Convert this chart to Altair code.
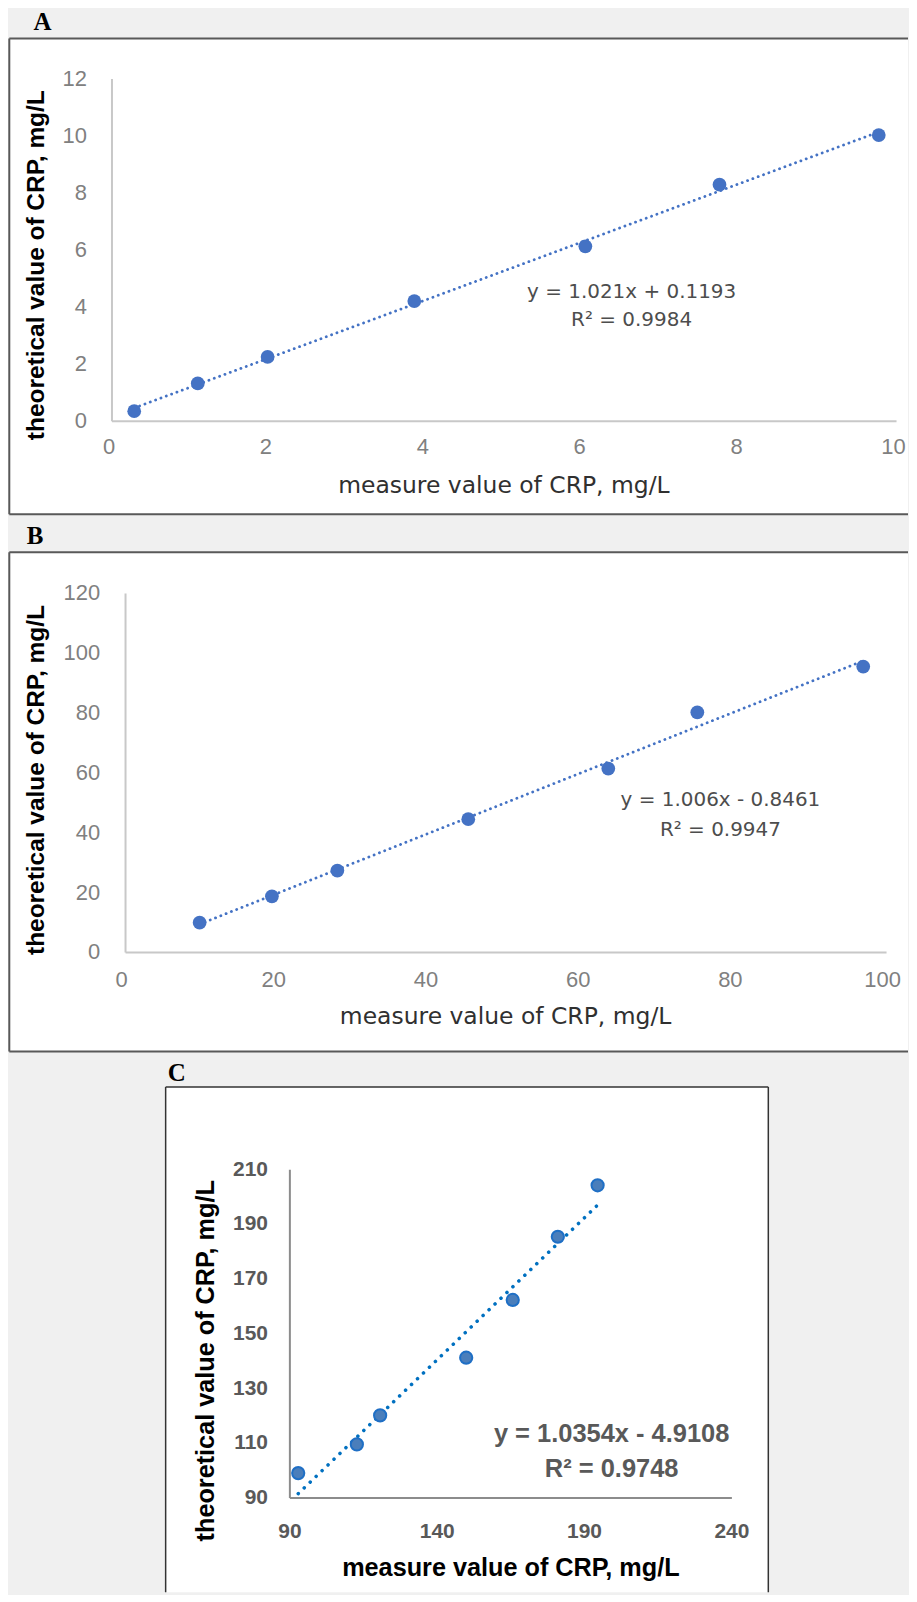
import altair as alt
import pandas as pd

BG = "#f0f0f0"

# ---------------- data ----------------
# Panel A
a_measure = [0.29, 1.10, 1.99, 3.86, 6.04, 7.75, 9.78]
a_theoretical = [0.34, 1.31, 2.24, 4.20, 6.12, 8.28, 10.02]
a_x_ticks = [0, 2, 4, 6, 8, 10]
a_y_ticks = [0, 2, 4, 6, 8, 10, 12]
a_eq = ["y = 1.021x + 0.1193", "R² = 0.9984"]

# Panel B
b_measure = [9.8, 19.3, 27.9, 45.1, 63.5, 75.2, 97.0]
b_theoretical = [9.8, 18.6, 27.2, 44.4, 61.3, 80.1, 95.4]
b_x_ticks = [0, 20, 40, 60, 80, 100]
b_y_ticks = [0, 20, 40, 60, 80, 100, 120]
b_eq = ["y = 1.006x - 0.8461", "R² = 0.9947"]

# Panel C
c_measure = [93.0, 112.9, 120.8, 150.0, 165.8, 181.1, 194.6]
c_theoretical = [98.9, 109.4, 120.0, 141.1, 162.2, 185.3, 204.1]
c_x_ticks = [90, 140, 190, 240]
c_y_ticks = [90, 110, 130, 150, 170, 190, 210]
c_eq = ["y = 1.0354x - 4.9108", "R² = 0.9748"]

x_title = "measure value of CRP, mg/L"
y_title = "theoretical value of CRP, mg/L"

# ---------------- layout (page pixel positions) ----------------
PAGE_X0, PAGE_X1 = 8, 909
GEO_A = dict(plot=(110.7, 77.0, 897.0, 420.0), slot=(8, 520),
             frame=(8.3, 36.7, 909, 513.5), sides=["left", "top", "bottom"],
             letter=(41.5, 28), xtitle=(504, 492), ytitle=(36, 264),
             eq=(632, 297, 325))
GEO_B = dict(plot=(124.3, 592.5, 887.0, 952.3), slot=(520, 1060),
             frame=(8.3, 551.7, 909, 1052), sides=["left", "top", "bottom"],
             letter=(34, 543), xtitle=(505.7, 1024), ytitle=(36, 780),
             eq=(721, 806.5, 836.5))
GEO_C = dict(plot=(289.0, 1170.0, 732.0, 1499.0), slot=(1060, 1594),
             frame=(165, 1087.7, 769, 1594), sides=["left", "top", "right"],
             letter=(176, 1082), xtitle=(511, 1578), ytitle=(205.5, 1362),
             eq=(612, 1443, 1479))

STYLE_AB = dict(frame_color="#595959", frame_width=2,
                label_font="Liberation Sans", label_size=22, label_weight="normal",
                label_color="#808080", domain_color="#c8c8c8", domain_width=2,
                xtitle_font="DejaVu Sans", xtitle_size=23.5, xtitle_weight="normal",
                xtitle_color="#303030",
                ytitle_font="Liberation Sans", ytitle_size=24.5, ytitle_weight="bold",
                ytitle_color="#000000",
                eq_font="DejaVu Sans", eq_size=20, eq_weight="normal", eq_color="#4d4d4d",
                point_fill="#4472c4", point_stroke="#4472c4", point_stroke_width=0,
                point_size=190,
                line_color="#4472c4", line_width=2.8, line_dash=[0.1, 5.6])
STYLE_C = dict(frame_color="#333333", frame_width=1.5,
               label_font="Liberation Sans", label_size=21, label_weight="bold",
               label_color="#595959", domain_color="#8c8c8c", domain_width=2,
               xtitle_font="Liberation Sans", xtitle_size=25.3, xtitle_weight="bold",
               xtitle_color="#000000",
               ytitle_font="Liberation Sans", ytitle_size=25.3, ytitle_weight="bold",
               ytitle_color="#000000",
               eq_font="Liberation Sans", eq_size=25.5, eq_weight="bold", eq_color="#595959",
               point_fill="#4a7ebb", point_stroke="#1f6fc5", point_stroke_width=2,
               point_size=150,
               line_color="#0070c0", line_width=3.5, line_dash=[0.1, 8.2])


def panel(letter, measure, theoretical, x_domain, y_domain, x_ticks, y_ticks, eq,
          g, s, pads):
    slot_top, slot_bottom = g["slot"]
    W = PAGE_X1 - PAGE_X0
    H = slot_bottom - slot_top
    px0, py0, px1, py1 = g["plot"]

    def rx(v):
        return v - PAGE_X0

    def ry(v):
        return v - slot_top

    one = alt.Data(values=[{"k": 0}])
    layers = []

    fx0, fy0, fx1, fy1 = g["frame"]
    layers.append(alt.Chart(one).mark_rect(fill="white").encode(
        x=alt.value(rx(fx0)), x2=alt.value(rx(fx1)),
        y=alt.value(ry(fy0)), y2=alt.value(ry(fy1))))
    for side in g["sides"]:
        if side == "left":
            enc = dict(x=alt.value(rx(fx0)), y=alt.value(ry(fy0)), y2=alt.value(ry(fy1)))
        elif side == "right":
            enc = dict(x=alt.value(rx(fx1)), y=alt.value(ry(fy0)), y2=alt.value(ry(fy1)))
        elif side == "top":
            enc = dict(x=alt.value(rx(fx0)), x2=alt.value(rx(fx1)), y=alt.value(ry(fy0)))
        else:
            enc = dict(x=alt.value(rx(fx0)), x2=alt.value(rx(fx1)), y=alt.value(ry(fy1)))
        layers.append(alt.Chart(one).mark_rule(
            color=s["frame_color"], strokeWidth=s["frame_width"]).encode(**enc))

    def txt(text, x, y, **kw):
        return alt.Chart(one).mark_text(text=text, **kw).encode(
            x=alt.value(rx(x)), y=alt.value(ry(y)))

    lx, ly = g["letter"]
    layers.append(txt(letter, lx, ly, font="Liberation Serif", fontWeight="bold",
                      fontSize=25, color="#000000", align="center", baseline="alphabetic"))
    tx, ty = g["xtitle"]
    layers.append(txt(x_title, tx, ty, font=s["xtitle_font"], fontSize=s["xtitle_size"],
                      fontWeight=s["xtitle_weight"], color=s["xtitle_color"],
                      align="center", baseline="alphabetic"))
    yx, yy = g["ytitle"]
    layers.append(txt(y_title, yx, yy, font=s["ytitle_font"], fontSize=s["ytitle_size"],
                      fontWeight=s["ytitle_weight"], color=s["ytitle_color"],
                      align="center", baseline="middle", angle=270))

    df = pd.DataFrame({"measure": measure, "theoretical": theoretical})
    common_axis = dict(title=None, grid=False, ticks=False, zindex=1,
                       domainColor=s["domain_color"], domainWidth=s["domain_width"],
                       labelFont=s["label_font"], labelFontSize=s["label_size"],
                       labelFontWeight=s["label_weight"], labelColor=s["label_color"],
                       labelOverlap=False, labelFlush=False)
    x_enc = alt.X("measure:Q",
                  scale=alt.Scale(domain=x_domain, nice=False, zero=False,
                                  range=[rx(px0), rx(px1)]),
                  axis=alt.Axis(values=x_ticks, labelPadding=pads["x"],
                                labelOffset=pads["xoff"], offset=ry(py1) - H,
                                **common_axis))
    y_enc = alt.Y("theoretical:Q",
                  scale=alt.Scale(domain=y_domain, nice=False, zero=False,
                                  range=[ry(py1), ry(py0)]),
                  axis=alt.Axis(values=y_ticks, labelPadding=pads["y"],
                                offset=-rx(px0), **common_axis))

    trend = alt.Chart(df).transform_regression("measure", "theoretical").mark_line(
        color=s["line_color"], strokeWidth=s["line_width"], strokeDash=s["line_dash"],
        strokeCap="round").encode(x=x_enc, y=y_enc)
    layers.append(trend)

    pts = alt.Chart(df).mark_point(
        filled=True, fill=s["point_fill"], stroke=s["point_stroke"],
        strokeWidth=s["point_stroke_width"], size=s["point_size"], opacity=1,
        shape="circle").encode(x=x_enc, y=y_enc)
    layers.append(pts)

    ex, eb1, eb2 = g["eq"]
    for line, base in zip(eq, [eb1, eb2]):
        layers.append(txt(line, ex, base, font=s["eq_font"], fontSize=s["eq_size"],
                          fontWeight=s["eq_weight"], color=s["eq_color"],
                          align="center", baseline="alphabetic"))

    return alt.layer(*layers).properties(width=W, height=H)


pa = panel("A", a_measure, a_theoretical, [0, 10], [0, 12], a_x_ticks, a_y_ticks, a_eq,
           GEO_A, STYLE_AB, dict(x=16, xoff=-3, y=25))
pb = panel("B", b_measure, b_theoretical, [0, 100], [0, 120], b_x_ticks, b_y_ticks, b_eq,
           GEO_B, STYLE_AB, dict(x=18, xoff=-4, y=25.5))
pc = panel("C", c_measure, c_theoretical, [90, 240], [90, 210], c_x_ticks, c_y_ticks, c_eq,
           GEO_C, STYLE_C, dict(x=23, xoff=0, y=22))

chart = alt.vconcat(pa, pb, pc, spacing=0).properties(
    padding=0, background=BG
).configure_view(strokeWidth=0)

chart.save("out.html", embed_options={"renderer": "svg", "actions": False})
